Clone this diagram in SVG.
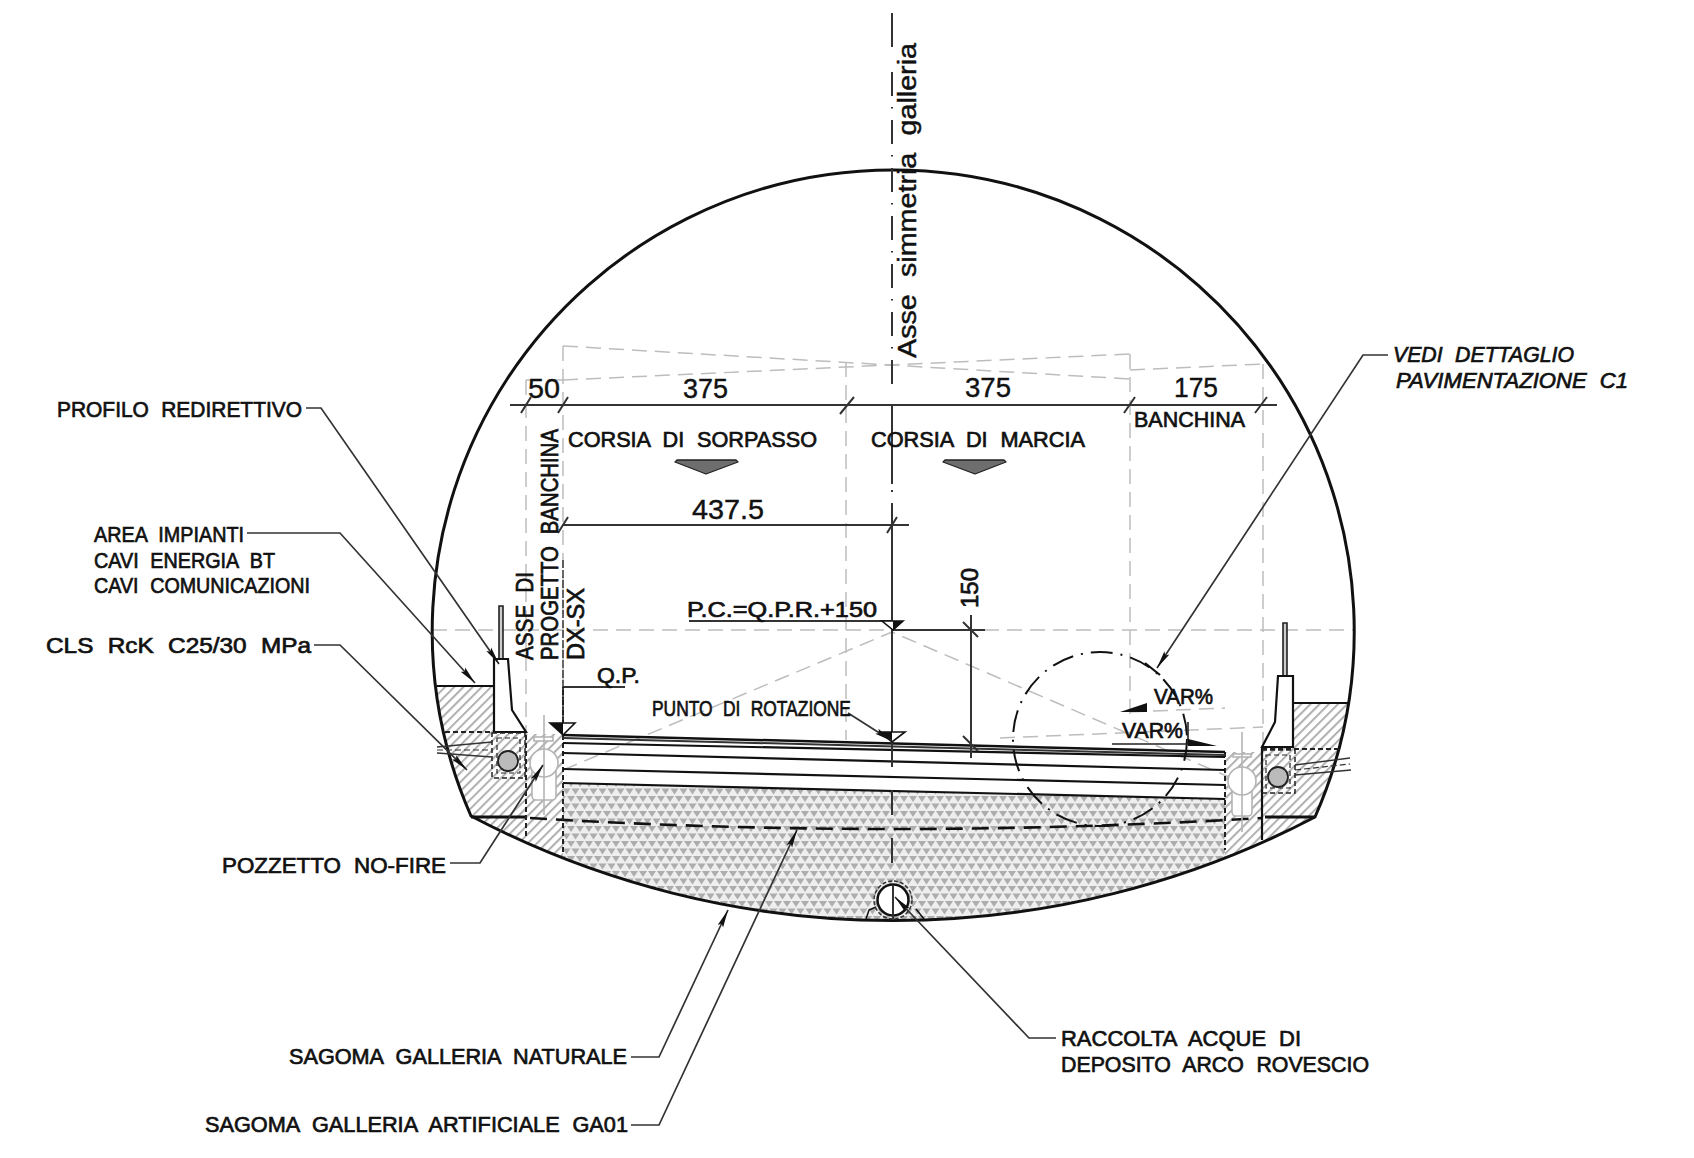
<svg xmlns="http://www.w3.org/2000/svg" width="1694" height="1158" viewBox="0 0 1694 1158">
<style>
text{font-family:"Liberation Sans",Arial,sans-serif;fill:#111;stroke:#111;stroke-width:.7;word-spacing:7px}
.t{font-size:22.500px}
.n{font-size:27px;stroke-width:.4}
.s{font-size:23px}
.it{font-style:italic;font-size:22.500px}
.ax{font-size:25px;stroke-width:.45;word-spacing:8px}
.lead{fill:none;stroke:#333;stroke-width:1.7}
.ghost{fill:none;stroke:#bdbdbd;stroke-width:1.5;stroke-dasharray:15 8}
.dim{fill:none;stroke:#333;stroke-width:2}
.k{fill:none;stroke:#111;stroke-width:2.2}
.thick{fill:none;stroke:#111;stroke-width:3}
.dash{fill:none;stroke:#222;stroke-width:2;stroke-dasharray:5 3}
.lg{fill:#fff;stroke:#b4b4b4;stroke-width:1.6}
</style>
<defs>
<pattern id="hatch" width="6.5" height="6.5" patternUnits="userSpaceOnUse" patternTransform="rotate(-45)">
<rect width="6.5" height="6.5" fill="#fff"/><rect width="6.5" height="2" fill="#b0b0b0"/>
</pattern>
<pattern id="stip" width="9" height="15" patternUnits="userSpaceOnUse">
<rect width="9" height="15" fill="#eeeeee"/>
<path d="M0 1h8l-4 6zM-4.500 8.500h8L-.5 14.500zM4.500 8.500h8L8.500 14.500z" fill="#adadad"/>
</pattern>
<clipPath id="tun"><path d="M471 816A461 461 0 1 1 1315 817A908 908 0 0 1 471 816Z"/></clipPath>
<marker id="ar" markerUnits="userSpaceOnUse" markerWidth="20" markerHeight="8" refX="18" refY="4" orient="auto"><path d="M0 1L18 4L0 7L3 4Z" fill="#111"/></marker>
</defs>
<rect width="1694" height="1158" fill="#fff"/>

<g id="fills" clip-path="url(#tun)">
<path d="M563 783L1225 799V940H563Z" fill="url(#stip)"/>
<path d="M420 686H494V734H563V900H420Z" fill="url(#hatch)"/>
<path d="M1225 752H1262V748H1293V703H1370V900H1225Z" fill="url(#hatch)"/>
</g>

<g id="ghost-lines">
<path class="ghost" d="M432 630H1354"/>
<path class="ghost" d="M526 380V735M563 346V735M846 362V740M1130 354V715M1263 364V748"/>
<path class="ghost" d="M563 346L1130 379M563 380L1130 354M526 380H563M1130 370L1263 364"/>
<path class="ghost" d="M563 770L892 632L1243 783"/>
<path class="ghost" d="M1130 712L1225 708M1000 738L1263 727"/>
</g>

<g id="tunnel">
<path class="thick" d="M471 816A461 461 0 1 1 1315 817A908 908 0 0 1 471 816Z"/>
<path class="k" d="M437 686H494M1293 703H1348"/>
<path class="thick" d="M471 817H525M1265 817H1315"/>
<path d="M530 818Q892 840 1262 818" fill="none" stroke="#111" stroke-width="2.600" stroke-dasharray="17 9"/>
<path class="k" d="M1262 748V840"/>
<path class="dash" d="M526 735V838M563 735V855M1225 752V850"/>
<path class="dash" d="M445 732H526M1262 749H1340"/>
<path d="M563 560V735" fill="none" stroke="#444" stroke-width="1.600" stroke-dasharray="8 2"/>
</g>

<g id="pavimentazione">
<path d="M563 735L1225 752" fill="none" stroke="#111" stroke-width="2.500"/>
<path d="M563 738L1225 755" fill="none" stroke="#333" stroke-width="2"/>
<path class="k" d="M563 743L1225 757M563 753L1225 770M563 769L1225 785M563 783L1225 799"/>
</g>

<g id="parapetto-sx">
<path d="M499 606h4v53h-4z" fill="#ccc" stroke="#222" stroke-width="1.600"/>
<path class="k" d="M494 732V659H508L512 710L526 732Z" style="fill:#fff"/>
<path class="dash" d="M492 733H525V778H492Z" style="stroke-width:1.500"/>
<path class="dash" d="M497 738H520V773H497Z" style="stroke-width:1.200"/>
<circle cx="508" cy="761" r="10" fill="#bbb" stroke="#222" stroke-width="1.800"/>
<path d="M437 747L492 742M437 753L492 757" fill="none" stroke="#333" stroke-width="1.400"/>
<path d="M437 750L492 750" fill="none" stroke="#333" stroke-width="1.200" stroke-dasharray="6 3"/>
</g>
<g id="pozzetto-sx">
<rect class="lg" x="532" y="768" width="24" height="32" rx="4"/>
<circle class="lg" cx="544" cy="763" r="14"/>
<rect class="lg" x="534" y="737" width="19" height="4"/>
<path class="lg" d="M544 715V815" style="fill:none"/>
</g>
<g id="parapetto-dx">
<path d="M1283 623h4v53h-4z" fill="#ccc" stroke="#222" stroke-width="1.600"/>
<path class="k" d="M1262 747L1275 722L1278 676H1293V747Z" style="fill:#fff"/>
<path class="dash" d="M1262 750H1295V793H1262Z" style="stroke-width:1.500"/>
<path class="dash" d="M1266 755H1290V788H1266Z" style="stroke-width:1.200"/>
<circle cx="1278" cy="777" r="10" fill="#bbb" stroke="#222" stroke-width="1.800"/>
<path d="M1295 765L1350 758M1295 775L1351 770" fill="none" stroke="#333" stroke-width="1.400"/>
<path d="M1295 770L1350 764" fill="none" stroke="#333" stroke-width="1.200" stroke-dasharray="6 3"/>
</g>
<g id="pozzetto-dx">
<rect class="lg" x="1232" y="786" width="20" height="30" rx="4"/>
<circle class="lg" cx="1242" cy="781" r="14"/>
<rect class="lg" x="1233" y="754" width="18" height="3"/>
<path class="lg" d="M1242 732V832" style="fill:none"/>
</g>

<g id="raccolta-acque">
<path class="k" d="M866 919L869 910L876 907M916 909L924 919" style="stroke-width:1.500"/>
<circle cx="893" cy="900" r="19" fill="none" stroke="#333" stroke-width="1.500" stroke-dasharray="4 2"/>
<circle cx="893" cy="900" r="15.500" fill="#fff" stroke="#111" stroke-width="2.500"/>
</g>

<g id="asse">
<path class="dim" d="M892 13V47"/>
<path class="dim" d="M892 72V394" stroke-dasharray="24 11 1.500 11.500"/>
<path class="dim" d="M892 406V484M892 490V492M892 503V767M892 790V815M892 838V863M893 885V920"/>
</g>

<g id="dettaglio">
<circle cx="1100" cy="739" r="87" fill="none" stroke="#111" stroke-width="2" stroke-dasharray="22 8 2 8"/>
<path d="M1145 663L1160 675" class="k"/>
</g>

<g id="quote">
<path class="dim" d="M510 405H860M860 405H1277" style="stroke-width:2.200"/>
<path class="dim" d="M521 413L531 397M558 413L568 397M840 414L854 397M1124 413L1135 397M1255 413L1267 397"/>
<path class="dim" d="M563 525H909M558 533L568 517M887 533L897 517"/>
<path class="dim" d="M892 630H985M971 615V758M963 622L978 637M963 736L978 751"/>
<path class="dim" d="M689 621H892M563 687H625"/>
<path class="k" d="M563 687V735" style="stroke-dasharray:8 2;stroke-width:1.600"/>
<path d="M550 723H575L563 735Z" fill="#fff" stroke="#111" stroke-width="1.600"/>
<path d="M550 723H563V735Z" fill="#111"/>
<path d="M882 621H903L893 630Z" fill="#fff" stroke="#111" stroke-width="1.600"/>
<path d="M893 621H903L893 630Z" fill="#111"/>
<path d="M880 732H905L892 742Z" fill="#fff" stroke="#111" stroke-width="1.600"/>
<path d="M880 732H892V742Z" fill="#111"/>
<path d="M677 460H736L738 462L706 474L675 462Z" fill="#6e6e6e" stroke="#222" stroke-width="1.300" stroke-linejoin="round"/>
<path d="M945 460H1004L1006 462L975 474L943 462Z" fill="#6e6e6e" stroke="#222" stroke-width="1.300" stroke-linejoin="round"/>
<path d="M1120 712L1147 703V712Z" fill="#111"/>
<path d="M1112 744H1188V722" fill="none" stroke="#222" stroke-width="1.600"/>
<path d="M1188 739L1217 746H1188Z" fill="#111"/>
</g>

<g id="connectors">
<path class="lead" marker-end="url(#ar)" d="M306 408H321L499 664"/>
<path class="lead" marker-end="url(#ar)" d="M247 533H340L475 683"/>
<path class="lead" marker-end="url(#ar)" d="M314 645H340L467 770"/>
<path class="lead" marker-end="url(#ar)" d="M450 863H480L543 765"/>
<path class="lead" marker-end="url(#ar)" d="M631 1057H659L728 910"/>
<path class="lead" marker-end="url(#ar)" d="M631 1125H659L797 830"/>
<path class="lead" marker-end="url(#ar)" d="M1056 1038H1029L895 897"/>
<path class="lead" marker-end="url(#ar)" d="M1388 355H1363L1157 668"/>
<path class="lead" marker-end="url(#ar)" d="M848 713L892 741"/>
</g>

<g id="testi">
<text class="ax" transform="translate(916 358) rotate(-90)" textLength="315" lengthAdjust="spacingAndGlyphs">Asse simmetria galleria</text>
<text class="n" x="528" y="398" textLength="32" lengthAdjust="spacingAndGlyphs">50</text>
<text class="n" x="683" y="398" textLength="45" lengthAdjust="spacingAndGlyphs">375</text>
<text class="n" x="965" y="397" textLength="46" lengthAdjust="spacingAndGlyphs">375</text>
<text class="n" x="1174" y="397" textLength="44" lengthAdjust="spacingAndGlyphs">175</text>
<text class="n" x="692" y="519" textLength="72" lengthAdjust="spacingAndGlyphs">437.5</text>
<text class="t" x="1134" y="427" textLength="111" lengthAdjust="spacingAndGlyphs">BANCHINA</text>
<text class="t" x="568" y="447" textLength="249" lengthAdjust="spacingAndGlyphs">CORSIA DI SORPASSO</text>
<text class="t" x="871" y="447" textLength="214" lengthAdjust="spacingAndGlyphs">CORSIA DI MARCIA</text>
<text class="s" transform="translate(533 660) rotate(-90)" textLength="88" lengthAdjust="spacingAndGlyphs">ASSE DI</text>
<text class="s" transform="translate(558 660) rotate(-90)" textLength="231" lengthAdjust="spacingAndGlyphs">PROGETTO BANCHINA</text>
<text class="s" transform="translate(584 660) rotate(-90)" textLength="72" lengthAdjust="spacingAndGlyphs">DX-SX</text>
<text class="s" transform="translate(978 608) rotate(-90)" textLength="40" lengthAdjust="spacingAndGlyphs">150</text>
<text class="t" x="687" y="617" textLength="190" lengthAdjust="spacingAndGlyphs">P.C.=Q.P.R.+150</text>
<text class="t" x="597" y="683" textLength="43" lengthAdjust="spacingAndGlyphs">Q.P.</text>
<text class="t" x="652" y="716" textLength="199" lengthAdjust="spacingAndGlyphs">PUNTO DI ROTAZIONE</text>
<text class="t" x="1154" y="704" textLength="59" lengthAdjust="spacingAndGlyphs">VAR%</text>
<text class="t" x="1122" y="738" textLength="61" lengthAdjust="spacingAndGlyphs">VAR%</text>
<text class="t" x="57" y="417" textLength="245" lengthAdjust="spacingAndGlyphs">PROFILO REDIRETTIVO</text>
<text class="t" x="94" y="542" textLength="150" lengthAdjust="spacingAndGlyphs">AREA IMPIANTI</text>
<text class="t" x="94" y="568" textLength="181" lengthAdjust="spacingAndGlyphs">CAVI ENERGIA BT</text>
<text class="t" x="94" y="593" textLength="216" lengthAdjust="spacingAndGlyphs">CAVI COMUNICAZIONI</text>
<text class="t" x="46" y="653" textLength="265" lengthAdjust="spacingAndGlyphs">CLS RcK C25/30 MPa</text>
<text class="t" x="222" y="873" textLength="224" lengthAdjust="spacingAndGlyphs">POZZETTO NO-FIRE</text>
<text class="t" x="289" y="1064" textLength="338" lengthAdjust="spacingAndGlyphs">SAGOMA GALLERIA NATURALE</text>
<text class="t" x="205" y="1132" textLength="423" lengthAdjust="spacingAndGlyphs">SAGOMA GALLERIA ARTIFICIALE GA01</text>
<text class="t" x="1061" y="1046" textLength="240" lengthAdjust="spacingAndGlyphs">RACCOLTA ACQUE DI</text>
<text class="t" x="1061" y="1072" textLength="308" lengthAdjust="spacingAndGlyphs">DEPOSITO ARCO ROVESCIO</text>
<text class="it" x="1393" y="362" textLength="181" lengthAdjust="spacingAndGlyphs">VEDI DETTAGLIO</text>
<text class="it" x="1396" y="388" textLength="232" lengthAdjust="spacingAndGlyphs">PAVIMENTAZIONE C1</text>
</g>
</svg>
